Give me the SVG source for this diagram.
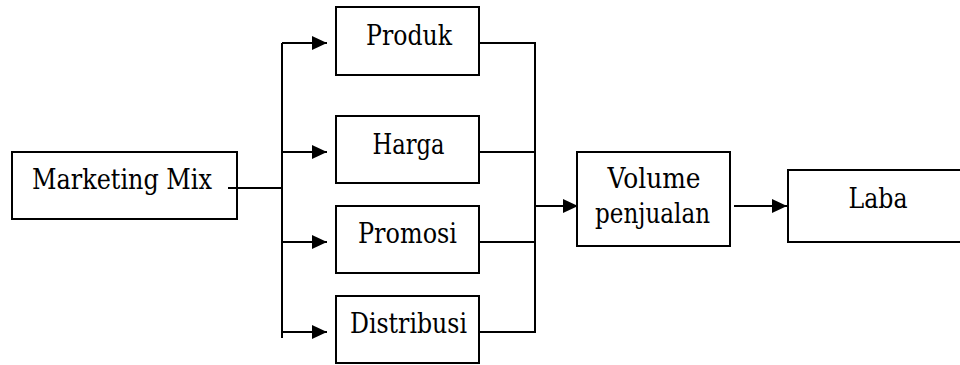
<svg xmlns="http://www.w3.org/2000/svg" width="960" height="365" viewBox="0 0 960 365">
<style>
.box{fill:#fff;stroke:#000;stroke-width:2}
.ln{fill:none;stroke:#000;stroke-width:2}
.t{font-family:'DejaVu Serif','Noto Serif','Liberation Serif',serif;font-size:27px;fill:#000;text-anchor:middle}
</style>
<defs>
<marker id="ah" markerWidth="15" markerHeight="14" refX="15" refY="7" orient="auto" markerUnits="userSpaceOnUse">
<path d="M0,0 L15,7 L0,14 Z" fill="#000"/>
</marker>
</defs>
<rect width="960" height="365" fill="#fff"/>
<g id="marketing-mix">
<rect class="box" x="12" y="152" width="225" height="67"/>
<text class="t" x="122" y="189" textLength="180" lengthAdjust="spacingAndGlyphs">Marketing Mix</text>
</g>
<g id="produk">
<rect class="box" x="336" y="7" width="143" height="68"/>
<text class="t" x="409" y="45" textLength="86" lengthAdjust="spacingAndGlyphs">Produk</text>
</g>
<g id="harga">
<rect class="box" x="336" y="116" width="143" height="67"/>
<text class="t" x="408.5" y="154" textLength="72" lengthAdjust="spacingAndGlyphs">Harga</text>
</g>
<g id="promosi">
<rect class="box" x="336" y="206" width="143" height="67"/>
<text class="t" x="407.5" y="243" textLength="99" lengthAdjust="spacingAndGlyphs">Promosi</text>
</g>
<g id="distribusi">
<rect class="box" x="336" y="296" width="143" height="67"/>
<text class="t" x="408.5" y="333" textLength="117" lengthAdjust="spacingAndGlyphs">Distribusi</text>
</g>
<g id="volume-penjualan">
<rect class="box" x="577" y="152" width="153" height="94"/>
<text class="t" x="654" y="188" textLength="93" lengthAdjust="spacingAndGlyphs">Volume</text>
<text class="t" x="652.5" y="223" textLength="115" lengthAdjust="spacingAndGlyphs">penjualan</text>
</g>
<g id="laba">
<rect class="box" x="788" y="170" width="180" height="72"/>
<text class="t" x="878" y="208" textLength="59" lengthAdjust="spacingAndGlyphs">Laba</text>
</g>
<g id="connectors">
<path class="ln" d="M228,188 H282"/>
<path class="ln" d="M282,43 V338"/>
<path class="ln" d="M282,43 H327" marker-end="url(#ah)"/>
<path class="ln" d="M282,152 H327" marker-end="url(#ah)"/>
<path class="ln" d="M282,242 H327" marker-end="url(#ah)"/>
<path class="ln" d="M282,332 H327" marker-end="url(#ah)"/>
<path class="ln" d="M479,43 H535 M479,152 H535 M479,242 H535 M479,332 H535"/>
<path class="ln" d="M535,42 V333"/>
<path class="ln" d="M535,206 H578" marker-end="url(#ah)"/>
<path class="ln" d="M734,206 H787" marker-end="url(#ah)"/>
</g>
</svg>
